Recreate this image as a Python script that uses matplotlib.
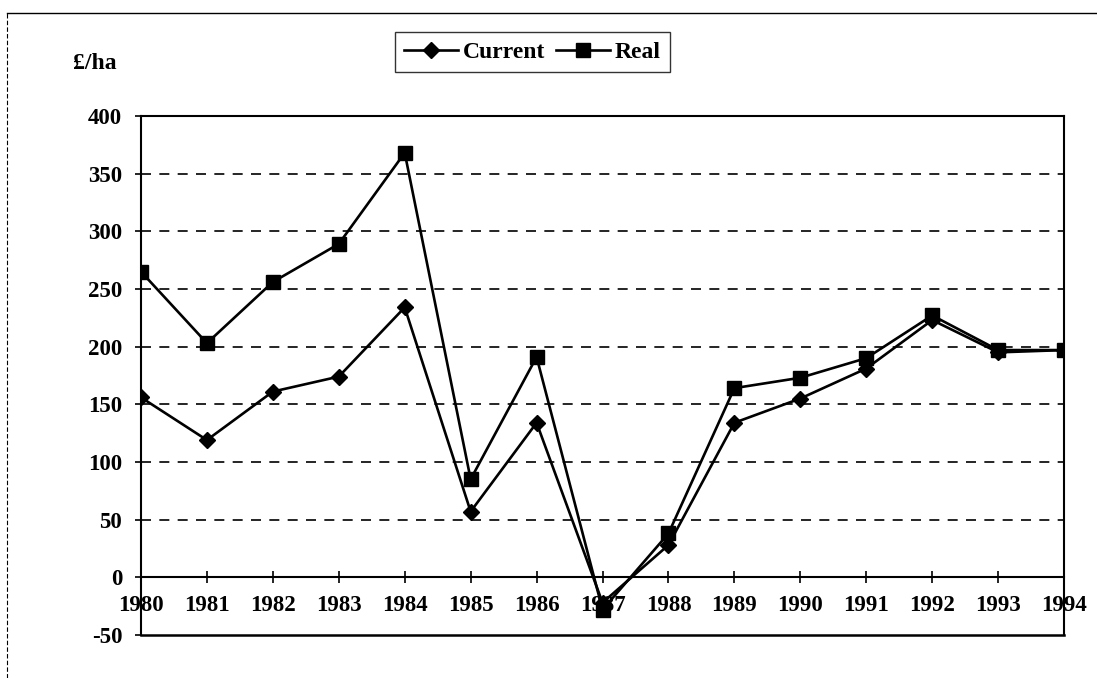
import matplotlib
matplotlib.use('Agg')
import matplotlib.pyplot as plt
from matplotlib.lines import Line2D

# values (£/ha)
years = [1980, 1981, 1982, 1983, 1984, 1985, 1986, 1987,
         1988, 1989, 1990, 1991, 1992, 1993, 1994]
current = [156, 119, 161, 174, 234, 57, 134, -22,
           28, 134, 155, 181, 223, 195, 197]
real = [265, 203, 256, 289, 368, 85, 191, -28,
        38, 164, 173, 190, 227, 197, 197]
yticks = [-50, 0, 50, 100, 150, 200, 250, 300, 350, 400]

plt.rcParams['font.family'] = ['Liberation Serif', 'DejaVu Serif']
plt.rcParams['font.size'] = 16.5
plt.rcParams['font.weight'] = 'bold'
plt.rcParams['axes.unicode_minus'] = False

fig = plt.figure(figsize=(10.97, 6.78), dpi=100)
ax = fig.add_axes([0.1285, 0.0634, 0.8415, 0.7657])

ax.plot(years, current, color='k', lw=1.9, marker='D', markersize=8.5, label='Current')
ax.plot(years, real, color='k', lw=1.9, marker='s', markersize=10, label='Real')

ax.set_xlim(years[0], years[-1])
ax.set_ylim(-50, 400)
ax.set_yticks(yticks)
ax.set_xticks(years)

for y in yticks[2:-1]:
    ax.axhline(y, color='k', lw=1.2, ls=(0, (6, 5)), zorder=0)

# x axis sits on zero, box closed at bottom
ax.spines['bottom'].set_position(('data', 0))
ax.axhline(-50, color='k', lw=1.8, clip_on=False)
for s in ['left', 'right', 'top', 'bottom']:
    ax.spines[s].set_linewidth(1.5)
ax.tick_params(axis='x', direction='inout', length=9, width=1.2, pad=8)
ax.tick_params(axis='y', direction='out', length=4.5, width=1.2, pad=9)

ax.legend(loc='center', bbox_to_anchor=(0.4854, 0.923), bbox_transform=fig.transFigure,
          ncol=2, frameon=True, fancybox=False, edgecolor='k', handlelength=2.3,
          handletextpad=0.2, columnspacing=0.45, borderpad=0.4, fontsize=17,
          prop={'weight': 'bold', 'size': 17})
ax.get_legend().get_frame().set_linewidth(1.0)

fig.text(0.0665, 0.906, '£/ha', fontsize=17, va='center', ha='left')

# outer frame of the scanned page
fig.add_artist(Line2D([0.006, 1.0], [0.981, 0.981], color='k', lw=1.0))
fig.add_artist(Line2D([0.006, 0.006], [0.0, 0.981], color='k', lw=0.8, ls=(0, (4, 2))))

fig.savefig('out.png', dpi=100)
